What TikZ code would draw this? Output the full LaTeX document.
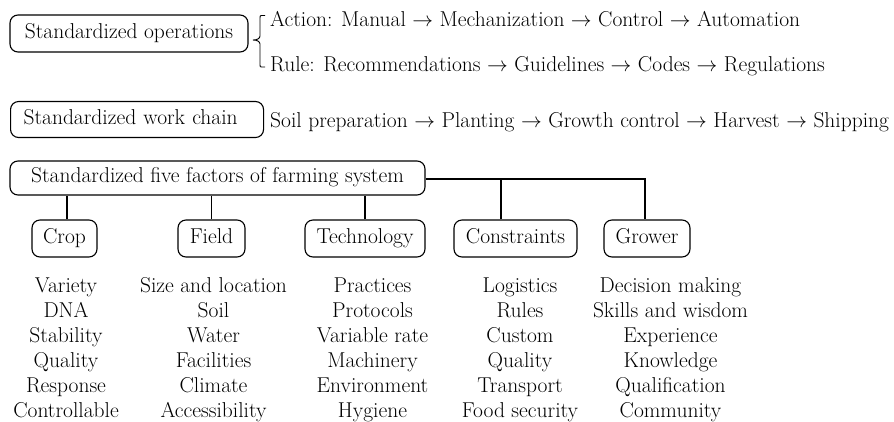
\documentclass[tikz,border=0pt]{standalone}
\begin{document}
\begin{tikzpicture}[x=1pt,y=-1pt,
  every node/.style={font=\fontsize{21.5}{25}\selectfont},
  box/.style={draw, rounded corners=8pt, line width=1.1pt, inner sep=0pt,
    text height=14.5pt, text depth=5pt},
  conn/.style={line width=1.1pt},
  lbl/.style={anchor=base west, inner sep=0pt},
  item/.style={anchor=base, inner sep=0pt}]
\useasboundingbox (0,0) rectangle (894,421);

% top boxes
\node[box, minimum width=238pt, minimum height=37pt] (ops) at (129,33.5) {Standardized operations};
\node[box, anchor=west, minimum height=36pt, text width=227pt, inner xsep=13pt, align=left] (chain) at (10,119.5) {Standardized work chain};

% brace
\draw[line width=0.9pt] (265,15.5) -- (261.5,15.5) .. controls (260.3,15.5) and (260,16) .. (260,17.5)
  -- (260,36) .. controls (260,38.5) and (257,40) .. (253,40)
  .. controls (257,40) and (260,41.5) .. (260,44)
  -- (260,65) .. controls (260,66.5) and (260.3,67) .. (261.5,67) -- (265,67);

\node[lbl] (act) at (270,26) {Action: Manual $\rightarrow$ Mechanization $\rightarrow$ Control $\rightarrow$ Automation};
\node[lbl] (rule) at (270,71) {Rule: Recommendations $\rightarrow$ Guidelines $\rightarrow$ Codes $\rightarrow$ Regulations};
\node[lbl] (soil) at (270,127) {Soil preparation $\rightarrow$ Planting $\rightarrow$ Growth control $\rightarrow$ Harvest $\rightarrow$ Shipping};

% five factors
\node[box, minimum width=415pt, minimum height=34pt] (five) at (217.5,178) {Standardized five factors of farming system};

\node[box, minimum width=65pt, minimum height=37pt] (crop) at (64.5,238.5) {Crop};
\node[box, minimum width=67pt, minimum height=37pt] (field) at (211.5,238.5) {Field};
\node[box, minimum width=120pt, minimum height=37pt] (tech) at (365,238.5) {Technology};
\node[box, minimum width=123pt, minimum height=37pt] (cons) at (515.5,238.5) {Constraints};
\node[box, minimum width=86pt, minimum height=37pt] (grow) at (647,238.5) {Grower};

% connectors
\draw[conn] ([xshift=2.5pt]crop.north) -- ([xshift=2.5pt]crop.north |- five.south);
\draw[conn] (field.north) -- (field.north |- five.south);
\draw[conn] (tech.north) -- (tech.north |- five.south);
\draw[conn] ([yshift=-1pt]five.east) -| ([xshift=-2pt]grow.north);
\draw[conn] ([xshift=-14.5pt]cons.north) -- ([xshift=-14.5pt,yshift=-1pt]cons.north |- five.east);

% lists
\foreach \t [count=\i] in {Variety,DNA,Stability,Quality,Response,Controllable}
  \node[item] (crop-\i) at (66,{267+25*\i}) {\t};
\foreach \t [count=\i] in {Size and location,Soil,Water,Facilities,Climate,Accessibility}
  \node[item] (field-\i) at (213.5,{267+25*\i}) {\t};
\foreach \t [count=\i] in {Practices,Protocols,Variable rate,Machinery,Environment,Hygiene}
  \node[item] (tech-\i) at (372.5,{267+25*\i}) {\t};
\foreach \t [count=\i] in {Logistics,Rules,Custom,Quality,Transport,Food security}
  \node[item] (cons-\i) at (520,{267+25*\i}) {\t};
\foreach \t [count=\i] in {Decision making,Skills and wisdom,Experience,Knowledge,Qualification,Community}
  \node[item] (grow-\i) at (670.5,{267+25*\i}) {\t};
\end{tikzpicture}
\end{document}
